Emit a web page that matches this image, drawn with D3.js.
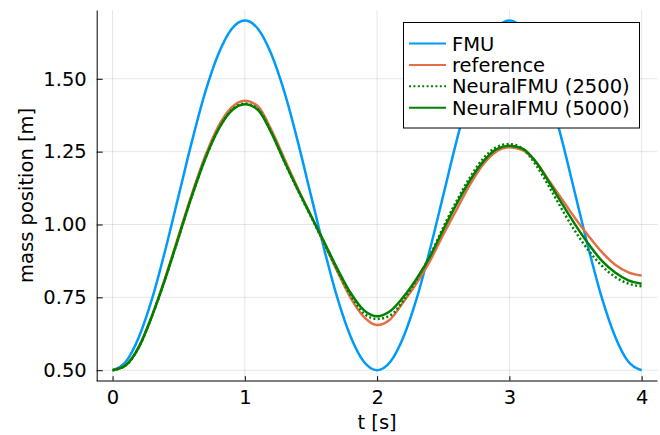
<!DOCTYPE html>
<html>
<head>
<meta charset="utf-8">
<script src="https://cdn.jsdelivr.net/npm/d3@7"></script>
<style>
  body { margin: 0; background: #fff; }
  svg text { font-family: "DejaVu Sans", sans-serif; fill: #000; }
</style>
</head>
<body>
<svg width="660" height="435"></svg>
<script>
// time points [s]
var time = [0.0, 0.1, 0.2, 0.3, 0.4, 0.5, 0.6, 0.7, 0.8, 0.9,
            1.0, 1.1, 1.2, 1.3, 1.4, 1.5, 1.6, 1.7, 1.8, 1.9,
            2.0, 2.1, 2.2, 2.3, 2.4, 2.5, 2.6, 2.7, 2.8, 2.9,
            3.0, 3.1, 3.2, 3.3, 3.4, 3.5, 3.6, 3.7, 3.8, 3.9, 4.0];

var fmu = [0.50, 0.529, 0.615, 0.747, 0.915, 1.10, 1.285, 1.453, 1.585, 1.671,
           1.70, 1.671, 1.585, 1.453, 1.285, 1.10, 0.915, 0.747, 0.615, 0.529,
           0.50, 0.529, 0.615, 0.747, 0.915, 1.10, 1.285, 1.453, 1.585, 1.671,
           1.70, 1.671, 1.585, 1.453, 1.285, 1.10, 0.915, 0.747, 0.615, 0.529, 0.50];

var reference = [0.50, 0.518, 0.582, 0.69, 0.82, 0.963, 1.105, 1.234, 1.337, 1.402,
                 1.425, 1.405, 1.325, 1.225, 1.125, 1.03, 0.935, 0.838, 0.748, 0.683,
                 0.655, 0.675, 0.735, 0.80, 0.875, 0.965, 1.05, 1.135, 1.205, 1.25,
                 1.265, 1.255, 1.215, 1.15, 1.085, 1.02, 0.96, 0.905, 0.862, 0.836, 0.825];

var neural2500 = [0.50, 0.517, 0.58, 0.688, 0.816, 0.957, 1.098, 1.225, 1.326, 1.392,
                  1.415, 1.395, 1.317, 1.215, 1.118, 1.027, 0.935, 0.842, 0.757, 0.695,
                  0.676, 0.688, 0.740, 0.812, 0.893, 0.99, 1.08, 1.16, 1.225, 1.265,
                  1.276, 1.26, 1.205, 1.13, 1.05, 0.975, 0.91, 0.858, 0.82, 0.797, 0.788];

var neural5000 = [0.50, 0.517, 0.58, 0.688, 0.816, 0.957, 1.098, 1.225, 1.326, 1.391,
                  1.413, 1.393, 1.315, 1.215, 1.12, 1.03, 0.94, 0.848, 0.765, 0.706,
                  0.685, 0.703, 0.752, 0.815, 0.89, 0.982, 1.07, 1.15, 1.215, 1.258,
                  1.27, 1.26, 1.215, 1.145, 1.07, 0.998, 0.932, 0.875, 0.835, 0.808, 0.797];

var xTicks = [0, 1, 2, 3, 4];
var yTicks = [0.50, 0.75, 1.00, 1.25, 1.50];

var series = [
  {name: "FMU", values: fmu, color: "#009AFA", dash: null},
  {name: "reference", values: reference, color: "#E26F46", dash: null},
  {name: "NeuralFMU (2500)", values: neural2500, color: "#008000", dash: "2,2.4"},
  {name: "NeuralFMU (5000)", values: neural5000, color: "#008000", dash: null}
];

var svg = d3.select("svg"),
    plotLeft = 96.7, plotRight = 657.5, plotTop = 10, plotBottom = 380.7,
    fontSize = 19.5;

var x = d3.scaleLinear().domain([-0.12, 4.12]).range([plotLeft, plotRight]),
    y = d3.scaleLinear().domain([0.464, 1.736]).range([plotBottom, plotTop]);

// grid
var grid = svg.append("g").attr("stroke", "#000").attr("stroke-opacity", 0.1).attr("stroke-width", 1);
grid.selectAll(".gx").data(xTicks).enter().append("line")
    .attr("x1", function(d) { return x(d); }).attr("x2", function(d) { return x(d); })
    .attr("y1", plotTop).attr("y2", plotBottom);
grid.selectAll(".gy").data(yTicks).enter().append("line")
    .attr("x1", plotLeft).attr("x2", plotRight)
    .attr("y1", function(d) { return y(d); }).attr("y2", function(d) { return y(d); });

// axes
var xAxis = svg.append("g")
    .attr("transform", "translate(0," + plotBottom + ")")
    .call(d3.axisBottom(x).tickValues(xTicks).tickSizeInner(-4.5).tickSizeOuter(0).tickPadding(9)
          .tickFormat(d3.format("d")));
var yAxis = svg.append("g")
    .attr("transform", "translate(" + plotLeft + ",0)")
    .call(d3.axisLeft(y).tickValues(yTicks).tickSizeInner(-6).tickSizeOuter(0).tickPadding(10)
          .tickFormat(d3.format(".2f")));

[xAxis, yAxis].forEach(function(a) {
  a.select(".domain").attr("stroke", "#000").attr("stroke-width", 1);
  a.selectAll(".tick line").attr("stroke", "#000");
  a.selectAll("text").attr("font-size", fontSize).attr("font-family", "DejaVu Sans");
});
xAxis.select(".domain").attr("d", "M" + plotLeft + ",0.3H" + plotRight);

svg.append("text")
    .attr("x", x(2)).attr("y", 429)
    .attr("text-anchor", "middle").attr("font-size", fontSize)
    .text("t [s]");
svg.append("text")
    .attr("transform", "translate(33," + ((plotTop + plotBottom) / 2) + ") rotate(-90)")
    .attr("text-anchor", "middle").attr("font-size", fontSize)
    .text("mass position [m]");

// lines
var line = d3.line()
    .curve(d3.curveMonotoneX)
    .x(function(d, i) { return x(time[i]); })
    .y(function(d) { return y(d); });

var plot = svg.append("g");
plot.selectAll(".series")
    .data(series)
  .enter().append("path")
    .attr("fill", "none")
    .attr("stroke", function(d) { return d.color; })
    .attr("stroke-width", 2.5)
    .attr("stroke-dasharray", function(d) { return d.dash; })
    .attr("d", function(d) { return line(d.values); });

// legend
var legend = svg.append("g");
legend.append("rect")
    .attr("x", 403.5).attr("y", 22.5).attr("width", 236).attr("height", 105.5)
    .attr("fill", "#fff").attr("stroke", "#000").attr("stroke-width", 1);

var item = legend.selectAll(".item")
    .data(series)
  .enter().append("g")
    .attr("transform", function(d, i) { return "translate(0," + (43.5 + i * 21.4) + ")"; });
item.append("line")
    .attr("x1", 409).attr("x2", 446)
    .attr("stroke", function(d) { return d.color; })
    .attr("stroke-width", 2)
    .attr("stroke-dasharray", function(d) { return d.dash; });
item.append("text")
    .attr("x", 452).attr("dy", "0.36em")
    .attr("font-size", fontSize)
    .text(function(d) { return d.name; });
</script>
</body>
</html>
